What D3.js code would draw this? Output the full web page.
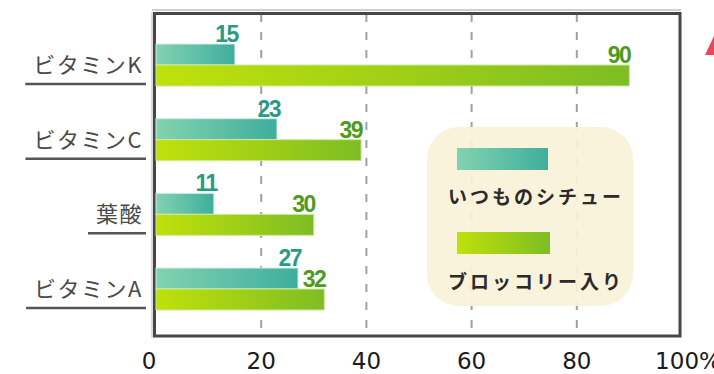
<!DOCTYPE html>
<html>
<head>
<meta charset="utf-8">
<script src="https://cdn.jsdelivr.net/npm/d3@7/dist/d3.min.js"></script>
<style>
  body { margin: 0; background: #fff; overflow: hidden; }
  svg { display: block; }
</style>
</head>
<body>
<div id="chart"></div>
<script>
// data
var categories = ["ビタミンK", "ビタミンC", "葉酸", "ビタミンA"];
var usualStew = [15, 23, 11, 27];      // いつものシチュー
var broccoliStew = [90, 39, 30, 32];   // ブロッコリー入り
var seriesNames = ["いつものシチュー", "ブロッコリー入り"];
var tickValues = [0, 20, 40, 60, 80, 100];
var tickLabels = ["0", "20", "40", "60", "80", "100%"];

var width = 714,
  height = 374,
  barH = 21;

var svg = d3.select("#chart").append("svg")
  .attr("width", width)
  .attr("height", height);

var defs = svg.append("defs");

//gradients for the two series
function grad(id, stops) {
  var g = defs.append("linearGradient").attr("id", id)
    .attr("x1", "0%").attr("x2", "100%").attr("y1", "0%").attr("y2", "0%");
  stops.forEach(function(s) {
    g.append("stop").attr("offset", s[0]).attr("stop-color", s[1]);
  });
}
grad("tealGrad", [["0%", "#82d2b0"], ["55%", "#5dbfa6"], ["100%", "#3fae9c"]]);
grad("greenGrad", [["0%", "#bfe10c"], ["50%", "#a0cf16"], ["100%", "#7dbd24"]]);

//scales
var x = d3.scaleLinear()
  .domain([0, 100])
  .range([156, 682]);

var y = d3.scalePoint()
  .domain(categories)
  .range([65, 289]);

//frame
svg.append("line")
  .attr("x1", 152).attr("x2", 681).attr("y1", 10).attr("y2", 10)
  .attr("stroke", "#cfcfcf").attr("stroke-width", 2);
svg.append("line")
  .attr("x1", 152).attr("x2", 152).attr("y1", 12).attr("y2", 338)
  .attr("stroke", "#cfcfcf").attr("stroke-width", 1.5);

//dashed grid lines
svg.selectAll("line.grid")
  .data(tickValues.slice(1, -1))
  .enter().append("line")
  .attr("class", "grid")
  .attr("x1", function(d) { return x(d); })
  .attr("x2", function(d) { return x(d); })
  .attr("y1", 14).attr("y2", 335)
  .attr("stroke", "#a0a0a0")
  .attr("stroke-width", 2)
  .attr("stroke-dasharray", "8,10");

svg.append("rect")
  .attr("x", 154.5).attr("y", 13.5)
  .attr("width", 525.5).attr("height", 322.5)
  .attr("fill", "none")
  .attr("stroke", "#474747")
  .attr("stroke-width", 3);

//legend box
var legend = svg.append("g");
legend.append("rect")
  .attr("x", 427).attr("y", 127)
  .attr("width", 206).attr("height", 179)
  .attr("rx", 32).attr("ry", 32)
  .attr("fill", "#f8f2d9")
  .attr("opacity", 0.92);

[["tealGrad", 148, 204], ["greenGrad", 232, 289]].forEach(function(l, i) {
  legend.append("rect")
    .attr("x", 457).attr("y", l[1])
    .attr("width", i ? 93 : 91).attr("height", 22)
    .attr("fill", "url(#" + l[0] + ")");
  legend.append("text")
    .attr("x", 536).attr("y", l[2])
    .attr("text-anchor", "middle")
    .attr("font-family", "'Noto Sans CJK JP', sans-serif")
    .attr("font-weight", "bold")
    .attr("font-size", 19)
    .attr("letter-spacing", 3)
    .attr("fill", "#2a2a2a")
    .text(seriesNames[i]);
});

//bars
var groups = svg.selectAll("g.cat")
  .data(categories)
  .enter().append("g")
  .attr("class", "cat");

groups.append("rect")
  .attr("x", x(0))
  .attr("y", function(d) { return y(d) - barH; })
  .attr("width", function(d, i) { return x(usualStew[i]) - x(0); })
  .attr("height", barH)
  .attr("fill", "url(#tealGrad)")
  .attr("stroke", "#d3eee6")
  .attr("stroke-width", 1);

groups.append("rect")
  .attr("x", x(0))
  .attr("y", function(d) { return y(d); })
  .attr("width", function(d, i) { return x(broccoliStew[i]) - x(0); })
  .attr("height", barH)
  .attr("fill", "url(#greenGrad)")
  .attr("stroke", "#cde99c")
  .attr("stroke-width", 1);

//value labels
var numFont = "'Liberation Sans', Arial, sans-serif";
groups.append("text")
  .attr("x", function(d, i) { return x(usualStew[i]) + 3; })
  .attr("y", function(d) { return y(d) - barH - 2; })
  .attr("text-anchor", "end")
  .attr("font-family", numFont)
  .attr("font-weight", "bold")
  .attr("font-size", 23)
  .attr("letter-spacing", -1.5)
  .attr("fill", "#2a9a86")
  .text(function(d, i) { return usualStew[i]; });

groups.append("text")
  .attr("x", function(d, i) { return x(broccoliStew[i]) + 1; })
  .attr("y", function(d) { return y(d) - 2; })
  .attr("text-anchor", "end")
  .attr("font-family", numFont)
  .attr("font-weight", "bold")
  .attr("font-size", 23)
  .attr("letter-spacing", -1.5)
  .attr("fill", "#4e9a1c")
  .text(function(d, i) { return broccoliStew[i]; });

//category labels with underline
groups.each(function(d) {
  var g = d3.select(this);
  var t = g.append("text")
    .attr("x", 143)
    .attr("y", y(d) + 8)
    .attr("text-anchor", "end")
    .attr("font-family", "'Noto Sans CJK JP', sans-serif")
    .attr("font-size", 22)
    .attr("letter-spacing", 1.5)
    .attr("fill", "#4a4a4a")
    .text(d);
  var w = t.node().getComputedTextLength();
  g.append("line")
    .attr("x1", 143 - w - 8).attr("x2", 146)
    .attr("y1", y(d) + 19).attr("y2", y(d) + 19)
    .attr("stroke", "#555")
    .attr("stroke-width", 2.5);
});

//x axis labels
svg.selectAll("text.tick")
  .data(tickValues)
  .enter().append("text")
  .attr("class", "tick")
  .attr("x", function(d, i) { return x(d) - (i === 0 ? 7 : 0) + (i === 5 ? 6 : 0); })
  .attr("y", 369)
  .attr("text-anchor", "middle")
  .attr("font-family", "'DejaVu Sans', sans-serif")
  .attr("font-size", 23)
  .attr("fill", "#1a1a1a")
  .text(function(d, i) { return tickLabels[i]; });

//red mark cut off at the right edge
svg.append("path")
  .attr("d", "M714,36 L705,55 L714,55 Z")
  .attr("fill", "#e8475e");
</script>
</body>
</html>
